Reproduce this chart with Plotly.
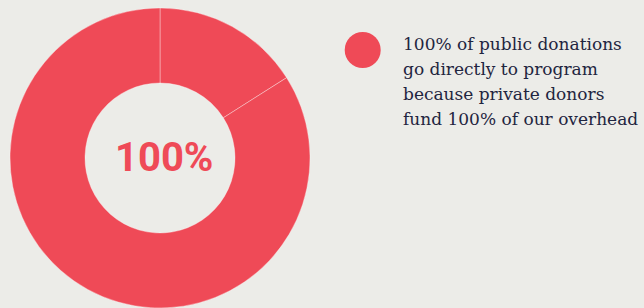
import plotly.graph_objects as go

# Data
slice_labels = ["Segment A", "Segment B"]
slice_values = [16, 84]
center_label = "100%"
legend_lines = [
    "100% of public donations",
    "go directly to program",
    "because private donors",
    "fund 100% of our overhead",
]

RED = "#ef4a57"
BG = "#ecece8"
W, H = 644, 308

fig = go.Figure()
fig.add_trace(go.Pie(
    labels=slice_labels,
    values=slice_values,
    hole=0.5,
    sort=False,
    direction="clockwise",
    rotation=0,
    textinfo="none",
    hoverinfo="none",
    marker=dict(colors=[RED, RED], line=dict(color="rgba(255,255,255,0.35)", width=1)),
    domain=dict(x=[10 / W, 310 / W], y=[0, 300 / H]),
    showlegend=False,
))

fig.add_annotation(
    x=164 / W, y=1 - 157 / H, xref="paper", yref="paper",
    text=f"<b>{center_label}</b>", showarrow=False,
    font=dict(family="Roboto", size=40, color=RED),
    xanchor="center", yanchor="middle",
)

# legend marker
fig.add_shape(
    type="circle", xref="paper", yref="paper",
    x0=(362.7 - 18) / W, x1=(362.7 + 18) / W,
    y0=1 - (50 + 18) / H, y1=1 - (50 - 18) / H,
    fillcolor=RED, line=dict(width=0),
)

for i, line in enumerate(legend_lines):
    fig.add_annotation(
        x=401 / W, y=1 - (44 + 25 * i) / H, xref="paper", yref="paper",
        text=line, showarrow=False, align="left",
        xanchor="left", yanchor="middle",
        font=dict(family="DejaVu Serif", size=17, color="#1f2540"),
    )

fig.update_layout(
    width=W, height=H,
    margin=dict(l=0, r=0, t=0, b=0),
    paper_bgcolor=BG, plot_bgcolor=BG,
)

fig.write_html(
    "out.html",
    config={"displayModeBar": False},
    post_script="document.body.style.margin='0';document.body.style.background='%s';" % BG,
)
